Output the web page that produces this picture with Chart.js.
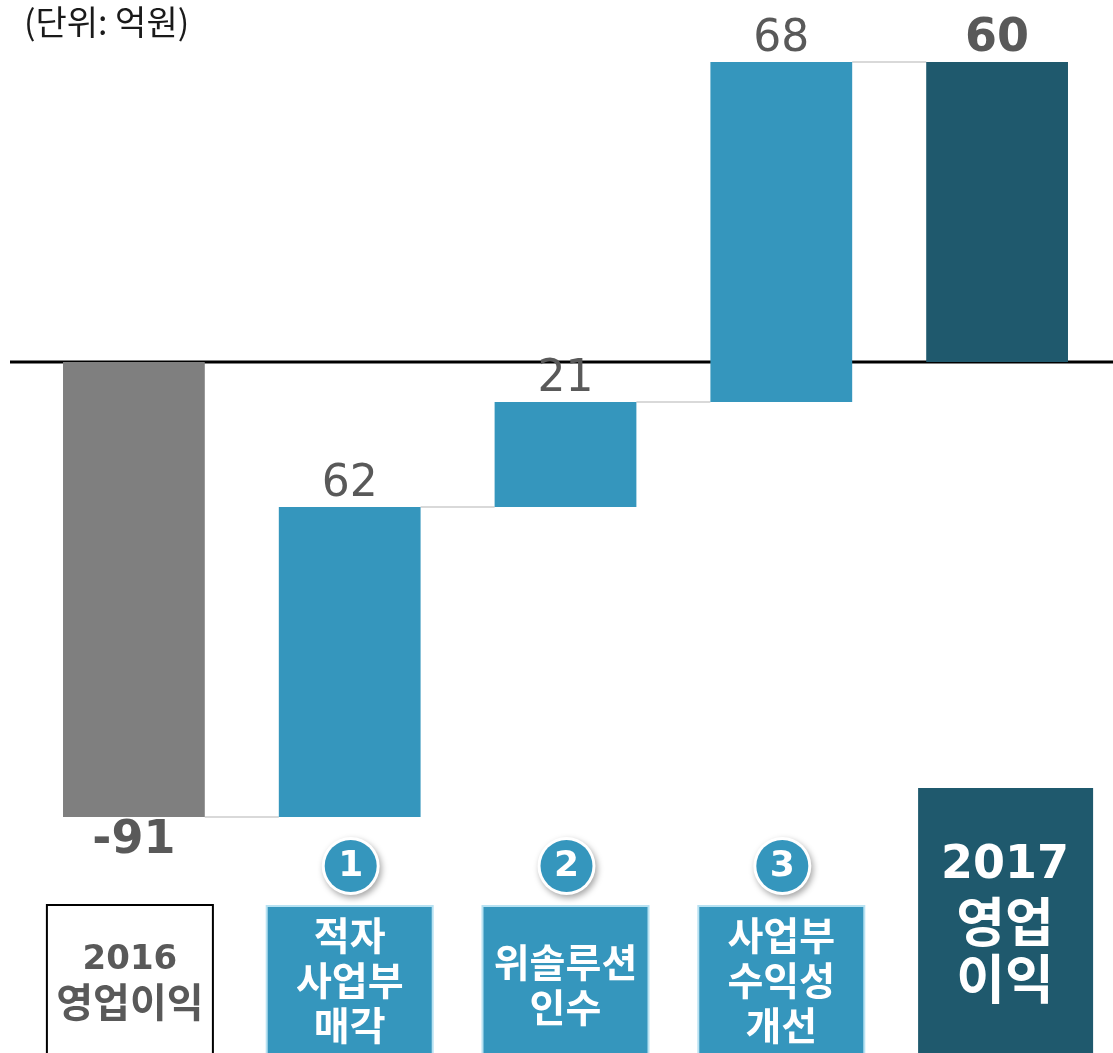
<!DOCTYPE html>
<html>
<head>
<meta charset="utf-8">
<script src="https://cdn.jsdelivr.net/npm/chart.js@4/dist/chart.umd.min.js"></script>
<style>
  html, body { margin: 0; padding: 0; background: #fff; }
  #wrap { position: relative; width: 1113px; height: 1053px; }
</style>
</head>
<body>
<div id="wrap"><canvas id="chart" width="1113" height="1053"></canvas></div>
<script>
// data
const categories = ['2016 영업이익', '적자 사업부 매각', '위솔루션 인수', '사업부 수익성 개선', '2017 영업이익'];
const startValue = -91;
const deltas = [62, 21, 68];
const endValue = 60;
const valueLabels = ['-91', '62', '21', '68', '60'];
const boxLines = [['2016', '영업이익'], ['적자', '사업부', '매각'], ['위솔루션', '인수'], ['사업부', '수익성', '개선'], ['2017', '영업', '이익']];
const stepNumbers = ['', '1', '2', '3', ''];
const unitText = '(단위: 억원)';

const GRAY = '#7f7f7f';
const BLUE = '#3596bd';
const DARK = '#1f596d';

// floating ranges for the waterfall
const ranges = [[0, startValue]];
let level = startValue;
deltas.forEach(d => { ranges.push([level, level + d]); level += d; });
ranges.push([0, endValue]);
const colors = [GRAY, BLUE, BLUE, BLUE, DARK];

const ctx = document.getElementById('chart').getContext('2d');

const waterfallDecor = {
    id: 'waterfallDecor',
    beforeDatasetsDraw(chart) {
        const c = chart.ctx;
        const y0 = chart.scales.y.getPixelForValue(0);
        c.save();
        c.strokeStyle = '#000';
        c.lineWidth = 3;
        c.beginPath();
        c.moveTo(10, y0);
        c.lineTo(chart.width, y0);
        c.stroke();
        // connectors
        const meta = chart.getDatasetMeta(0);
        c.strokeStyle = '#d9d9d9';
        c.lineWidth = 2;
        for (let i = 0; i < ranges.length - 1; i++) {
            const a = meta.data[i], b = meta.data[i + 1];
            const y = chart.scales.y.getPixelForValue(ranges[i][1]);
            c.beginPath();
            c.moveTo(a.x + a.width / 2, y);
            c.lineTo(b.x - b.width / 2, y);
            c.stroke();
        }
        c.restore();
    },
    afterDatasetsDraw(chart) {
        const c = chart.ctx;
        const meta = chart.getDatasetMeta(0);
        const ys = chart.scales.y;
        c.save();
        c.textAlign = 'center';
        c.fillStyle = '#595959';
        meta.data.forEach((bar, i) => {
            const hi = ys.getPixelForValue(Math.max(...ranges[i]));
            const lo = ys.getPixelForValue(Math.min(...ranges[i]));
            const bold = (i === 0 || i === ranges.length - 1);
            c.font = (bold ? 'bold 46px' : '44px') + ' "DejaVu Sans"';
            if (i === 0) {
                c.textBaseline = 'top';
                c.fillText(valueLabels[i], bar.x, lo + 1);
            } else {
                c.textBaseline = 'alphabetic';
                c.fillText(valueLabels[i], bar.x, hi - 11);
            }
        });

        // unit text
        c.textAlign = 'left';
        c.textBaseline = 'middle';
        c.fillStyle = '#1a1a1a';
        c.font = '34px "Noto Sans CJK KR"';
        c.fillText(unitText, 24, 22);

        // category boxes
        const xs = chart.scales.x;
        boxLines.forEach((lines, i) => {
            const cx = xs.getPixelForValue(i);
            c.textAlign = 'center';
            c.textBaseline = 'middle';
            if (i === 0) {
                c.fillStyle = '#fff';
                c.fillRect(cx - 87, 905, 166, 160);
                c.strokeStyle = '#000';
                c.lineWidth = 2;
                c.strokeRect(cx - 87, 905, 166, 160);
                c.fillStyle = '#595959';
                c.font = 'bold 34px "DejaVu Sans"';
                c.fillText(lines[0], cx - 4, 960);
                c.font = 'bold 40px "Noto Sans CJK KR"';
                c.fillText(lines[1], cx - 4, 1002);
            } else if (i === boxLines.length - 1) {
                c.fillStyle = DARK;
                c.fillRect(cx - 79, 788, 175, 280);
                c.fillStyle = '#fff';
                c.font = 'bold 46px "DejaVu Sans"';
                c.fillText(lines[0], cx + 8, 866);
                c.font = 'bold 53px "Noto Sans CJK KR"';
                c.fillText(lines[1], cx + 8, 922);
                c.fillText(lines[2], cx + 8, 979);
            } else {
                c.fillStyle = BLUE;
                c.fillRect(cx - 83, 906, 166, 160);
                c.strokeStyle = '#b8e2f2';
                c.lineWidth = 2;
                c.strokeRect(cx - 83, 906, 166, 160);
                c.fillStyle = '#fff';
                c.font = 'bold 39px "Noto Sans CJK KR"';
                const startY = lines.length === 3 ? 935 : 962;
                lines.forEach((t, k) => c.fillText(t, cx, startY + k * 45));
                // step circle
                c.save();
                c.shadowColor = 'rgba(0,0,0,0.35)';
                c.shadowBlur = 6;
                c.shadowOffsetX = 2;
                c.shadowOffsetY = 3;
                c.beginPath();
                c.arc(cx + 1, 866, 29, 0, Math.PI * 2);
                c.fillStyle = '#fff';
                c.fill();
                c.restore();
                c.beginPath();
                c.arc(cx + 1, 866, 26, 0, Math.PI * 2);
                c.fillStyle = BLUE;
                c.fill();
                c.fillStyle = '#fff';
                c.font = 'bold 36px "DejaVu Sans"';
                c.fillText(stepNumbers[i], cx + 1, 867);
            }
        });
        c.restore();
    }
};

new Chart(ctx, {
    type: 'bar',
    data: {
        labels: categories,
        datasets: [{
            data: ranges,
            backgroundColor: colors,
            borderWidth: 0,
            barPercentage: 0.657,
            categoryPercentage: 1
        }]
    },
    options: {
        responsive: false,
        animation: false,
        layout: { padding: { left: 26, right: 8, top: 12, bottom: 41 } },
        scales: {
            x: { display: false },
            y: { display: false, min: -130, max: 70 }
        },
        plugins: {
            legend: { display: false },
            tooltip: { enabled: false }
        }
    },
    plugins: [waterfallDecor]
});
</script>
</body>
</html>
